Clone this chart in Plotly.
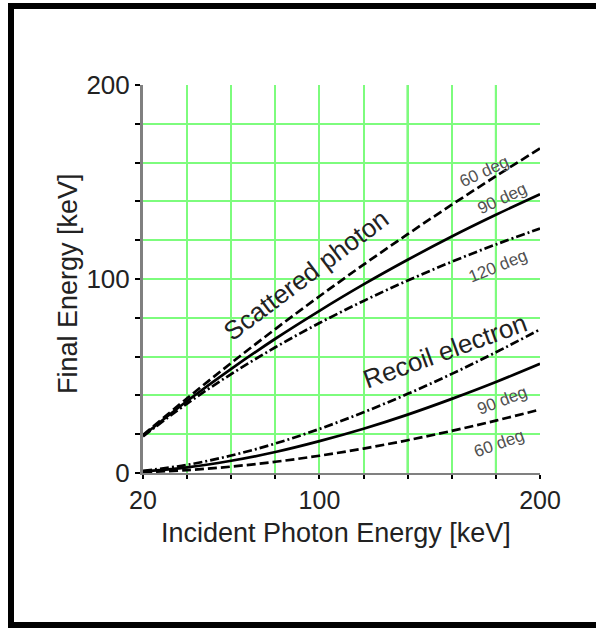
import plotly.graph_objects as go

# ---- data ----
incident_energy = [20, 40, 60, 80, 100, 120, 140, 160, 180, 200]

photon_60 = [19.6, 38.5, 56.7, 74.2, 91.1, 107.4, 123.1, 138.3, 153.0, 167.3]
photon_90 = [19.2, 37.1, 53.7, 69.2, 83.6, 97.2, 109.9, 121.9, 133.1, 143.7]
photon_120 = [18.9, 35.8, 51.0, 64.8, 77.3, 88.7, 99.2, 108.9, 117.8, 126.0]

electron_60 = [0.4, 1.5, 3.3, 5.8, 8.9, 12.6, 16.9, 21.7, 27.0, 32.7]
electron_90 = [0.8, 2.9, 6.3, 10.8, 16.4, 22.8, 30.1, 38.2, 46.9, 56.3]
electron_120 = [1.1, 4.2, 9.0, 15.2, 22.7, 31.3, 40.8, 51.1, 62.2, 74.0]

x_tick_vals = [20, 40, 60, 80, 100, 120, 140, 160, 180, 200]
x_tick_text = ["20", "", "", "", "100", "", "", "", "", "200"]
y_tick_vals = [0, 20, 40, 60, 80, 100, 120, 140, 160, 180, 200]
y_tick_text = ["0", "", "", "", "", "100", "", "", "", "", "200"]
bright_grid_x = [140, 180]

# ---- layout geometry ----
W, H = 596, 628
L, R, T, B = 143, 540, 85, 473
FONT = "Liberation Sans, Arial, Helvetica, sans-serif"
TXT = "#222222"
LBL = "#505050"


def px(xp):
    return (xp - L) / (R - L)


def py(yp):
    return (B - yp) / (B - T)


fig = go.Figure()

series = [
    (photon_60, "dash60"), (photon_90, "solid"), (photon_120, "dashdot"),
    (electron_60, "dash60"), (electron_90, "solid"), (electron_120, "dashdot"),
]
dash_map = {"dash60": "9px,4px", "solid": "solid", "dashdot": "9px,3px,2px,3px"}
for ys, style in series:
    fig.add_trace(go.Scatter(
        x=incident_energy, y=ys, mode="lines",
        line=dict(color="black", width=2.7, dash=dash_map[style], shape="spline"),
        showlegend=False, hoverinfo="skip"))

shapes = []
for gx in bright_grid_x:
    shapes.append(dict(type="line", xref="x", yref="paper", x0=gx, x1=gx, y0=0, y1=1,
                       line=dict(color="#22ee22", width=2), layer="below"))
# outer black frame (left, top, bottom)
shapes.append(dict(type="rect", xref="paper", yref="paper", x0=px(8), x1=px(14), y0=py(628), y1=py(3),
                   fillcolor="black", line=dict(width=0)))
shapes.append(dict(type="rect", xref="paper", yref="paper", x0=px(8), x1=px(600), y0=py(9), y1=py(3),
                   fillcolor="black", line=dict(width=0)))
shapes.append(dict(type="rect", xref="paper", yref="paper", x0=px(8), x1=px(600), y0=py(628), y1=py(622),
                   fillcolor="black", line=dict(width=0)))

annotations = [
    dict(text="Incident Photon Energy [keV]", x=px(336), y=py(533), font=dict(size=27)),
    dict(text="Final Energy [keV]", x=px(68), y=py(284), font=dict(size=27), textangle=-90),
    dict(text="Scattered photon", x=px(306), y=py(275), font=dict(size=26), textangle=-37),
    dict(text="Recoil electron", x=px(445), y=py(351), font=dict(size=26), textangle=-20),
    dict(text="60 deg", x=px(484), y=py(171), font=dict(size=17, color=LBL), textangle=-25),
    dict(text="90 deg", x=px(502), y=py(198), font=dict(size=17, color=LBL), textangle=-25),
    dict(text="120 deg", x=px(497), y=py(266), font=dict(size=17, color=LBL), textangle=-22),
    dict(text="90 deg", x=px(502), y=py(400), font=dict(size=17, color=LBL), textangle=-21),
    dict(text="60 deg", x=px(499), y=py(443), font=dict(size=17, color=LBL), textangle=-20),
]
for a in annotations:
    a.update(xref="paper", yref="paper", showarrow=False, xanchor="center", yanchor="middle")
    a["font"].setdefault("color", TXT)
    a["font"]["family"] = FONT

fig.update_layout(
    width=W, height=H,
    margin=dict(l=L, r=W - R, t=T, b=H - B, pad=0),
    paper_bgcolor="white", plot_bgcolor="white",
    font=dict(family=FONT, color=TXT, size=25),
    shapes=shapes, annotations=annotations,
    xaxis=dict(range=[20, 200], tickmode="array", tickvals=x_tick_vals, ticktext=x_tick_text,
               showgrid=True, gridcolor="#7dfc7d", gridwidth=1.5,
               showline=True, linecolor="#808080", linewidth=2,
               ticks="outside", ticklen=4, tickwidth=2, tickcolor="black",
               tickfont=dict(size=25, color=TXT), zeroline=False),
    yaxis=dict(range=[0, 200], tickmode="array", tickvals=y_tick_vals, ticktext=y_tick_text,
               showgrid=True, gridcolor="#7dfc7d", gridwidth=1.5,
               showline=True, linecolor="#808080", linewidth=3,
               ticks="outside", ticklen=5, tickwidth=2, tickcolor="black",
               tickfont=dict(size=26, color=TXT), zeroline=False),
)

fig.write_html("out.html")
